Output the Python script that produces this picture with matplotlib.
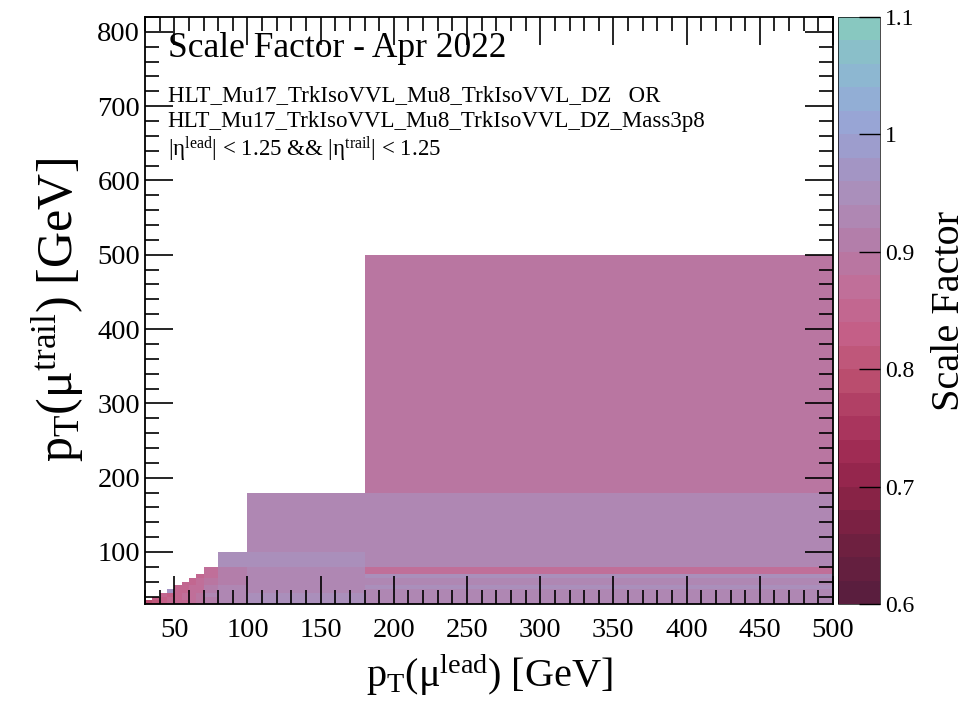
import numpy as np
import matplotlib
matplotlib.use("Agg")
import matplotlib.pyplot as plt
from matplotlib.colors import LinearSegmentedColormap
from matplotlib.ticker import MultipleLocator

plt.rcParams['font.family'] = ['Liberation Serif', 'DejaVu Serif']
plt.rcParams['mathtext.fontset'] = 'custom'
plt.rcParams['mathtext.rm'] = 'Liberation Serif'
plt.rcParams['mathtext.it'] = 'Liberation Serif:italic'

# bin edges (GeV)
pt_lead_edges = [30, 35, 40, 45, 50, 55, 60, 65, 70, 80, 100, 180, 500]
pt_trail_edges = [30, 35, 40, 45, 50, 55, 60, 65, 70, 80, 100, 180, 500]

n = np.nan
# scale factors, one row per trailing-muon bin, one column per leading-muon bin
sf_rows = [
    [0.78, 0.82, 0.83, 0.85, 0.86, 0.86, 0.87, 0.89, 0.91, 0.93, 0.95, 0.92],
    [n, 0.83, 0.84, 0.85, 0.86, 0.87, 0.88, 0.89, 0.91, 0.93, 0.95, 0.93],
    [n, n, 0.85, 0.84, 0.86, 0.87, 0.88, 0.89, 0.92, 0.93, 0.95, 0.92],
    [n, n, n, 0.97, 0.85, 0.86, 0.87, 0.88, 0.90, 0.92, 0.94, 0.92],
    [n, n, n, n, 0.85, 0.86, 0.87, 0.88, 0.90, 0.92, 0.94, 0.95],
    [n, n, n, n, n, 0.85, 0.86, 0.87, 0.89, 0.91, 0.92, 0.92],
    [n, n, n, n, n, n, 0.86, 0.87, 0.89, 0.91, 0.92, 0.92],
    [n, n, n, n, n, n, n, 0.86, 0.88, 0.90, 0.93, 0.95],
    [n, n, n, n, n, n, n, n, 0.88, 0.91, 0.92, 0.88],
    [n, n, n, n, n, n, n, n, n, 0.95, 0.95, 0.92],
    [n, n, n, n, n, n, n, n, n, n, 0.92, 0.92],
    [n, n, n, n, n, n, n, n, n, n, n, 0.895],
]

palette = ['#5a1e3e', '#6c2040', '#842244', '#9c2850', '#ac3860', '#bc5070',
           '#c46088', '#c06e98', '#b47ca8', '#ac8cb8', '#a098c8', '#96a8d8',
           '#8cb8d0', '#88c8c0']
cmap = LinearSegmentedColormap.from_list('sf', palette, N=25)

z = np.ma.masked_invalid(np.array(sf_rows))

fig = plt.figure(figsize=(9.8, 7.11), dpi=100)
ax = fig.add_axes([145/980, 107/711, 688/980, 587/711])
mesh = ax.pcolormesh(pt_lead_edges, pt_trail_edges, z, cmap=cmap, vmin=0.6, vmax=1.1)

ax.set_xlim(30, 500)
ax.set_ylim(30, 820)
ax.xaxis.set_major_locator(MultipleLocator(50))
ax.xaxis.set_minor_locator(MultipleLocator(10))
ax.yaxis.set_major_locator(MultipleLocator(100))
ax.yaxis.set_minor_locator(MultipleLocator(20))
ax.tick_params(which='both', direction='in', top=True, right=True, labelsize=20.5, width=1.2)
ax.tick_params(which='major', length=20)
ax.tick_params(which='minor', length=10)
ax.tick_params(axis='x', pad=10)
for s in ax.spines.values():
    s.set_linewidth(1.3)

ax.set_xlabel(r'$\mathrm{p_{T}(\mu^{lead})\ [GeV]}$', fontsize=29, labelpad=6)
ax.set_ylabel(r'$\mathrm{p_{T}(\mu^{trail})\ [GeV]}$', fontsize=36, labelpad=8)

ax.text(0.033, 0.974, 'Scale Factor - Apr 2022', transform=ax.transAxes,
        fontsize=25.5, va='top', ha='left')
ax.text(0.033, 0.884, 'HLT_Mu17_TrkIsoVVL_Mu8_TrkIsoVVL_DZ   OR', transform=ax.transAxes,
        fontsize=16.5, va='top', ha='left')
ax.text(0.033, 0.840, 'HLT_Mu17_TrkIsoVVL_Mu8_TrkIsoVVL_DZ_Mass3p8', transform=ax.transAxes,
        fontsize=16.5, va='top', ha='left')
ax.text(0.033, 0.800, r'|$\mathrm{\eta^{lead}}$| < 1.25 && |$\mathrm{\eta^{trail}}$| < 1.25',
        transform=ax.transAxes, fontsize=16.5, va='top', ha='left')

cax = fig.add_axes([838/980, 107/711, 42/980, 587/711])
cb = fig.colorbar(mesh, cax=cax, ticks=[0.6, 0.7, 0.8, 0.9, 1.0, 1.1])
cb.ax.set_yticklabels(['0.6', '0.7', '0.8', '0.9', '1', '1.1'])
cb.ax.tick_params(direction='in', length=15, labelsize=17, width=1.0)
cb.outline.set_linewidth(0.5)
cb.set_label('Scale Factor', fontsize=29, labelpad=12)

fig.savefig('out.png', dpi=100)
